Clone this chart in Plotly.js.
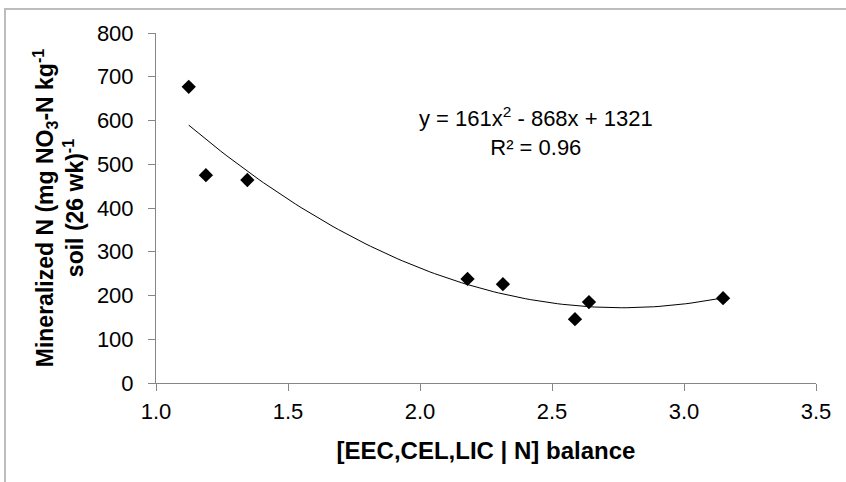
<!DOCTYPE html>
<html>
<head>
<meta charset="utf-8">
<script src="https://cdn.plot.ly/plotly-3.0.1.min.js"></script>
<style>
  html, body { margin: 0; padding: 0; background: #fff; }
  #chart { width: 846px; height: 482px; }
</style>
</head>
<body>
<div id="chart"></div>
<script>
// Data
const balance = [1.124, 1.189, 1.346, 2.18, 2.314, 2.587, 2.64, 3.148];
const mineralizedN = [677, 475, 464, 238, 226, 146, 185, 194];

const xTickVals = [1.0, 1.5, 2.0, 2.5, 3.0, 3.5];
const xTickText = ["1.0", "1.5", "2.0", "2.5", "3.0", "3.5"];
const yTickVals = [0, 100, 200, 300, 400, 500, 600, 700, 800];

const equationText = "y = 161x<sup>2</sup> - 868x + 1321<br>R² = 0.96";

// Second-order polynomial least-squares fit computed from the data above
function polyFit2(xs, ys) {
  let S = [0, 0, 0, 0, 0], T = [0, 0, 0];
  for (let i = 0; i < xs.length; i++) {
    let p = 1;
    for (let k = 0; k < 5; k++) { S[k] += p; if (k < 3) T[k] += p * ys[i]; p *= xs[i]; }
  }
  const A = [[S[0], S[1], S[2], T[0]], [S[1], S[2], S[3], T[1]], [S[2], S[3], S[4], T[2]]];
  for (let c = 0; c < 3; c++) {
    for (let r = c + 1; r < 3; r++) {
      const f = A[r][c] / A[c][c];
      for (let k = c; k < 4; k++) A[r][k] -= f * A[c][k];
    }
  }
  const sol = [0, 0, 0];
  for (let r = 2; r >= 0; r--) {
    let s = A[r][3];
    for (let k = r + 1; k < 3; k++) s -= A[r][k] * sol[k];
    sol[r] = s / A[r][r];
  }
  return sol; // c0, c1, c2
}
const coef = polyFit2(balance, mineralizedN);
const xMin = Math.min(...balance), xMax = Math.max(...balance);
const fitX = [], fitY = [];
for (let i = 0; i <= 100; i++) {
  const x = xMin + (xMax - xMin) * i / 100;
  fitX.push(x);
  fitY.push(coef[0] + coef[1] * x + coef[2] * x * x);
}

const FONT = "Liberation Sans, Arial, sans-serif";

const traces = [
  {
    x: fitX, y: fitY, type: "scatter", mode: "lines",
    line: { color: "#000", width: 1 }, hoverinfo: "skip", showlegend: false
  },
  {
    x: balance, y: mineralizedN, type: "scatter", mode: "markers",
    marker: { symbol: "diamond", size: 11, color: "#000" }, showlegend: false
  }
];

const layout = {
  width: 846, height: 482,
  margin: { l: 156, r: 30, t: 33, b: 99 },
  paper_bgcolor: "#fff", plot_bgcolor: "#fff",
  font: { family: FONT, color: "#000", size: 20 },
  showlegend: false,
  xaxis: {
    range: [1.0, 3.5], tickvals: xTickVals, ticktext: xTickText,
    showgrid: false, zeroline: false,
    showline: true, linecolor: "#868686", linewidth: 1,
    ticks: "outside", ticklen: 7, tickcolor: "#868686",
    tickfont: { family: FONT, size: 22, color: "#000" },
    ticklabelstandoff: 2,
    title: { text: "<b>[EEC,CEL,LIC | N] balance</b>", font: { family: FONT, size: 24, color: "#000" }, standoff: 18 }
  },
  yaxis: {
    range: [0, 800], tickvals: yTickVals,
    showgrid: false, zeroline: false,
    showline: true, linecolor: "#868686", linewidth: 1,
    ticks: "outside", ticklen: 7, tickcolor: "#868686",
    tickfont: { family: FONT, size: 22, color: "#000" },
    ticklabelstandoff: 10,
    title: { text: "<b>Mineralized N (mg NO<sub>3</sub>-N kg<sup>-1</sup><br>soil (26 wk)<sup>-1</sup></b>", font: { family: FONT, size: 23, color: "#000" }, standoff: 6 }
  },
  annotations: [
    {
      x: 2.439, y: 574, xref: "x", yref: "y",
      text: equationText, showarrow: false,
      font: { family: FONT, size: 22, color: "#000" },
      align: "center", xanchor: "center", yanchor: "middle"
    }
  ],
  shapes: [
    {
      type: "rect", xref: "paper", yref: "paper",
      x0: -0.2288, x1: 1.2, y0: -0.6, y1: 1.0686,
      line: { color: "#bdbdbd", width: 2 }, fillcolor: "rgba(0,0,0,0)", layer: "below"
    }
  ]
};

Plotly.newPlot("chart", traces, layout, { displayModeBar: false, staticPlot: true });
</script>
</body>
</html>
